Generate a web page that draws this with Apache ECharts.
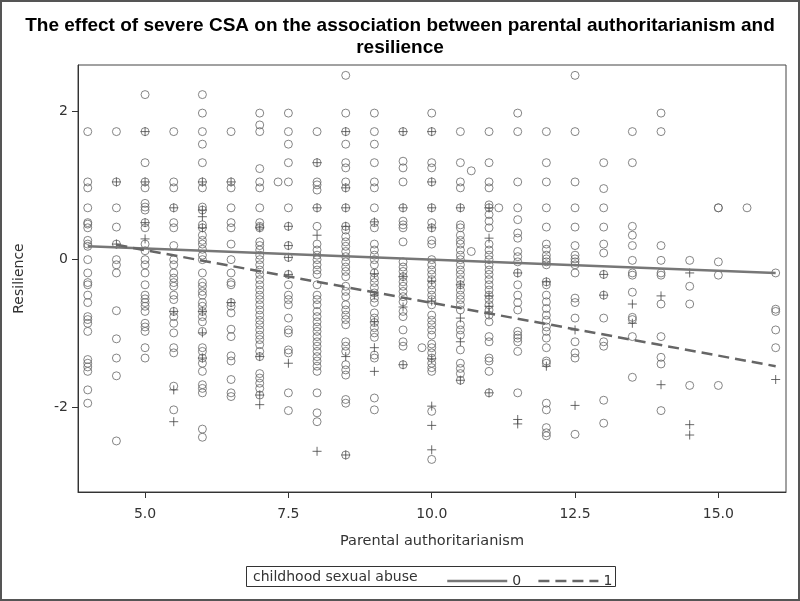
<!DOCTYPE html>
<html>
<head>
<meta charset="utf-8">
<script src="https://cdn.jsdelivr.net/npm/echarts@6/dist/echarts.min.js"></script>
<style>html,body{margin:0;padding:0;background:#fff}#c{width:800px;height:601px}</style>
</head>
<body>
<div id="c"></div>
<script>
// Circles: childhood sexual abuse = 0 ; [x, [resilience values]]
const abuse0ByX = [
  [4, [1.72, 1.04, 0.96, 0.69, 0.49, 0.47, 0.42, 0.25, 0.20, 0.17, -0.01, -0.19, -0.32, -0.35, -0.49, -0.59, -0.78, -0.82, -0.87, -0.98, -1.36, -1.41, -1.46, -1.52, -1.77, -1.95]],
  [4.5, [1.72, 1.04, 0.69, 0.43, 0.2, -0.01, -0.08, -0.19, -0.70, -1.08, -1.34, -1.58, -2.46]],
  [5, [2.22, 1.72, 1.30, 1.04, 0.96, 0.75, 0.70, 0.66, 0.49, 0.42, 0.20, 0.11, -0.01, -0.08, -0.19, -0.35, -0.49, -0.54, -0.59, -0.64, -0.71, -0.87, -0.92, -0.98, -1.20, -1.34]],
  [5.5, [1.72, 1.04, 0.96, 0.69, 0.49, 0.42, 0.18, -0.01, -0.08, -0.19, -0.26, -0.32, -0.37, -0.49, -0.55, -0.71, -0.78, -0.87, -1.0, -1.2, -1.27, -1.72, -2.04]],
  [6, [2.22, 1.97, 1.72, 1.55, 1.30, 1.04, 0.96, 0.70, 0.66, 0.46, 0.42, 0.32, 0.25, 0.2, 0.13, 0.05, -0.01, -0.19, -0.32, -0.37, -0.44, -0.49, -0.59, -0.64, -0.71, -0.78, -0.85, -0.98, -1.2, -1.25, -1.34, -1.41, -1.52, -1.70, -1.75, -1.81, -2.30, -2.41]],
  [6.5, [1.72, 1.04, 0.96, 0.69, 0.49, 0.42, 0.2, -0.01, -0.19, -0.32, -0.35, -0.59, -0.64, -0.73, -0.95, -1.05, -1.31, -1.38, -1.63, -1.81, -1.86]],
  [7, [1.97, 1.81, 1.72, 1.22, 1.04, 0.96, 0.69, 0.49, 0.44, 0.42, 0.23, 0.18, 0.12, 0.05, -0.01, -0.08, -0.15, -0.21, -0.28, -0.35, -0.42, -0.49, -0.55, -0.62, -0.69, -0.76, -0.83, -0.89, -0.96, -1.03, -1.09, -1.16, -1.25, -1.32, -1.55, -1.61, -1.68, -1.75, -1.84]],
  [7.32, [1.04]],
  [7.5, [1.97, 1.72, 1.55, 1.30, 1.04, 0.69, 0.44, 0.18, 0.02, -0.21, -0.35, -0.49, -0.55, -0.62, -0.80, -0.96, -1.0, -1.23, -1.27, -1.81, -2.05]],
  [8, [1.72, 1.30, 1.04, 1.0, 0.93, 0.69, 0.44, 0.2, 0.12, 0.05, -0.01, -0.08, -0.15, -0.21, -0.35, -0.49, -0.55, -0.62, -0.71, -0.78, -0.85, -0.92, -0.98, -1.05, -1.12, -1.18, -1.25, -1.32, -1.38, -1.45, -1.52, -1.81, -2.08, -2.20]],
  [8.5, [2.48, 1.97, 1.72, 1.55, 1.30, 1.23, 1.04, 0.96, 0.69, 0.44, 0.39, 0.3, 0.23, 0.17, 0.1, 0.03, -0.04, -0.11, -0.17, -0.24, -0.37, -0.44, -0.51, -0.62, -0.69, -0.76, -0.82, -0.89, -1.12, -1.18, -1.25, -1.43, -1.50, -1.57, -1.90, -1.95, -2.65]],
  [9, [1.97, 1.72, 1.55, 1.30, 1.04, 0.96, 0.69, 0.49, 0.42, 0.2, 0.12, 0.05, -0.01, -0.08, -0.19, -0.26, -0.32, -0.39, -0.46, -0.53, -0.59, -0.73, -0.8, -0.86, -0.93, -1.0, -1.06, -1.30, -1.34, -1.88, -2.04]],
  [9.5, [1.72, 1.32, 1.23, 1.04, 0.69, 0.51, 0.46, 0.42, 0.23, -0.04, -0.11, -0.17, -0.24, -0.31, -0.37, -0.44, -0.51, -0.58, -0.71, -0.78, -0.96, -1.12, -1.18, -1.43]],
  [9.83, [-1.2]],
  [10, [1.97, 1.72, 1.30, 1.23, 1.04, 0.69, 0.49, 0.42, 0.25, 0.2, -0.01, -0.08, -0.15, -0.21, -0.28, -0.35, -0.42, -0.49, -0.55, -0.62, -0.76, -0.83, -0.89, -0.96, -1.03, -1.15, -1.2, -1.27, -1.34, -1.41, -1.47, -1.52, -2.06, -2.71]],
  [10.5, [1.72, 1.30, 1.04, 0.96, 0.69, 0.46, 0.42, 0.32, 0.25, 0.2, 0.12, 0.05, -0.01, -0.08, -0.15, -0.21, -0.28, -0.35, -0.42, -0.49, -0.55, -0.62, -0.69, -0.89, -0.96, -1.03, -1.23, -1.41, -1.48, -1.55, -1.64]],
  [10.69, [1.19, 0.1]],
  [11, [1.72, 1.30, 1.04, 0.96, 0.73, 0.69, 0.6, 0.51, 0.42, 0.2, 0.12, 0.05, -0.01, -0.08, -0.15, -0.21, -0.28, -0.35, -0.42, -0.49, -0.55, -0.62, -0.69, -0.76, -0.85, -1.05, -1.12, -1.34, -1.38, -1.52, -1.81]],
  [11.17, [0.69]],
  [11.5, [1.97, 1.72, 1.04, 0.69, 0.53, 0.35, 0.28, 0.1, 0.03, -0.04, -0.19, -0.35, -0.49, -0.59, -0.69, -0.98, -1.03, -1.07, -1.12, -1.25, -1.81]],
  [12, [1.72, 1.30, 1.04, 0.69, 0.43, 0.2, 0.13, 0.05, 0.0, -0.04, -0.08, -0.31, -0.35, -0.49, -0.58, -0.67, -0.76, -0.83, -0.92, -0.98, -1.07, -1.2, -1.38, -1.41, -1.95, -2.04, -2.28, -2.35, -2.39]],
  [12.5, [2.48, 1.72, 1.04, 0.69, 0.43, 0.18, 0.05, 0.0, -0.04, -0.08, -0.19, -0.53, -0.59, -0.8, -1.12, -1.27, -1.34, -2.37]],
  [13, [1.30, 0.95, 0.69, 0.43, 0.2, 0.08, -0.21, -0.49, -0.8, -1.12, -1.18, -1.91, -2.22]],
  [13.5, [1.72, 1.30, 0.44, 0.32, 0.18, -0.02, -0.19, -0.22, -0.45, -0.79, -0.82, -1.05, -1.6]],
  [14, [1.97, 1.72, 0.18, -0.02, -0.19, -0.22, -0.61, -1.05, -1.33, -1.42, -2.05]],
  [14.5, [-0.02, -0.37, -0.61, -1.71]],
  [15, [0.69, 0.69, -0.04, -0.22, -1.71]],
  [15.5, [0.69]],
  [16, [-0.19, -0.68, -0.71, -0.96, -1.2]]
];
// Plus signs: childhood sexual abuse = 1
const abuse1ByX = [
  [4.5, [1.04, 0.2]],
  [5, [1.72, 1.04, 0.49, 0.27]],
  [5.5, [0.69, -0.71, -1.77, -2.2]],
  [6, [1.04, 0.66, 0.57, 0.42, -0.71, -1.0, -1.34]],
  [6.5, [1.04, -0.59]],
  [7, [0.42, -1.32, -1.84, -1.97]],
  [7.5, [0.44, 0.18, 0.02, -0.21, -1.41]],
  [8, [1.30, 0.69, 0.32, -2.6]],
  [8.5, [1.72, 0.96, 0.69, 0.44, -1.32, -2.65]],
  [9, [0.5, -0.2, -0.49, -0.85, -1.2, -1.52]],
  [9.5, [1.72, 0.69, -0.24, -0.65, -1.43]],
  [10, [1.72, 1.04, 0.69, 0.42, -0.3, -0.57, -1.35, -1.99, -2.25, -2.58]],
  [10.5, [0.69, -0.35, -0.8, -1.12, -1.64]],
  [11, [0.69, 0.28, -0.5, -0.64, -0.74, -1.81]],
  [11.5, [-0.19, -2.17, -2.23]],
  [12, [-0.31, -1.45]],
  [12.5, [-0.96, -1.98]],
  [13, [-0.21, -0.49]],
  [13.5, [-0.61, -0.87]],
  [14, [-0.5, -1.7]],
  [14.5, [-0.19, -2.24, -2.38]],
  [16, [-1.63]]
];
// Fitted regression lines (endpoints)
const fit0X = [4, 16];
const fit0Y = [0.17, -0.19];
const fit1X = [4.5, 16];
const fit1Y = [0.19, -1.45];
const xTicks = [5, 7.5, 10, 12.5, 15];
const yTicks = [-2, 0, 2];

function flatten(groups) {
  const out = [];
  groups.forEach(g => g[1].forEach(v => out.push([g[0], v])));
  return out;
}
const pts0 = flatten(abuse0ByX);
const pts1 = flatten(abuse1ByX);

const chart = echarts.init(document.getElementById('c'), null, {renderer: 'canvas'});
const txt = '#333';
chart.setOption({
  animation: false,
  backgroundColor: '#fff',
  title: {
    text: 'The effect of severe CSA on the association between parental authoritarianism and\nresilience',
    left: 'center', top: 10,
    textStyle: {fontFamily: 'Liberation Sans', fontWeight: 'bold', fontSize: 19, color: '#000', lineHeight: 22}
  },
  grid: {left: 78, right: 14, top: 65, bottom: 109, show: true, borderColor: '#444', borderWidth: 1},
  xAxis: {
    type: 'value', min: 3.83, max: 16.18,
    name: 'Parental authoritarianism', nameLocation: 'middle', nameGap: 42,
    nameTextStyle: {fontFamily: 'DejaVu Sans', fontSize: 14.5, color: txt},
    axisLine: {show: true, onZero: false, lineStyle: {color: '#333'}},
    axisTick: {show: true, length: 6, lineStyle: {color: '#333'}, customValues: xTicks},
    axisLabel: {customValues: xTicks, formatter: v => v.toFixed(1), fontFamily: 'DejaVu Sans', fontSize: 14, color: txt, margin: 15},
    splitLine: {show: false}
  },
  yAxis: {
    type: 'value', min: -3.15, max: 2.62,
    name: 'Resilience', nameLocation: 'middle', nameGap: 52, nameRotate: 90,
    nameTextStyle: {fontFamily: 'DejaVu Sans', fontSize: 14, color: txt},
    axisLine: {show: true, onZero: false, lineStyle: {color: '#333'}},
    axisTick: {show: true, length: 6, lineStyle: {color: '#333'}, customValues: yTicks},
    axisLabel: {customValues: yTicks, formatter: v => String(v), fontFamily: 'DejaVu Sans', fontSize: 14, color: txt, margin: 10},
    splitLine: {show: false}
  },
  legend: {
    data: ['0', '1'], left: 441, top: 569, itemWidth: 60, itemHeight: 14, itemGap: 16,
    itemStyle: {opacity: 0}, lineStyle: {width: 2.5},
    textStyle: {fontFamily: 'DejaVu Sans', fontSize: 14, color: txt}, selectedMode: false
  },
  graphic: [
    {type: 'rect', shape: {x: 1, y: 1, width: 798, height: 599}, style: {fill: 'none', stroke: '#555', lineWidth: 2}, silent: true},
    {type: 'rect', shape: {x: 246.5, y: 566.5, width: 369, height: 20}, style: {fill: 'none', stroke: '#333', lineWidth: 1}, silent: true},
    {type: 'text', x: 253, y: 577, style: {text: 'childhood sexual abuse', font: '14px "DejaVu Sans"', fill: txt, textVerticalAlign: 'middle'}, silent: true}
  ],
  series: [
    {
      name: 'circles', type: 'scatter', data: pts0, symbol: 'circle', symbolSize: 8,
      itemStyle: {color: 'rgba(0,0,0,0)', borderColor: '#666', borderWidth: 1}, silent: true
    },
    {
      name: 'plus', type: 'scatter', data: pts1, symbol: 'path://M5,0L5,10M0,5L10,5', symbolSize: 9,
      itemStyle: {color: 'rgba(0,0,0,0)', borderColor: '#444', borderWidth: 1}, silent: true
    },
    {
      name: '0', type: 'line', data: fit0X.map((x, i) => [x, fit0Y[i]]), symbol: 'none',
      lineStyle: {color: '#777', width: 2.5, type: 'solid'}, itemStyle: {color: '#777'}, z: 5
    },
    {
      name: '1', type: 'line', data: fit1X.map((x, i) => [x, fit1Y[i]]), symbol: 'none',
      lineStyle: {color: '#666', width: 2.5, type: [11, 6]}, itemStyle: {color: '#666'}, z: 5
    }
  ]
});
</script>
</body>
</html>
